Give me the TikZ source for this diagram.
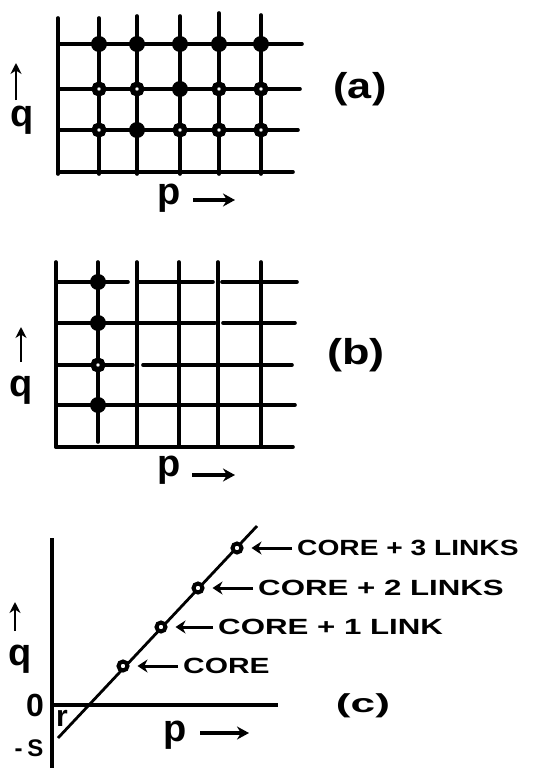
\documentclass[tikz,border=0pt]{standalone}
\usepackage{fontspec}
\setmainfont{Liberation Sans}
\usetikzlibrary{arrows.meta}
\begin{document}
\begin{tikzpicture}[x=1pt,y=-1pt,
  gridline/.style={line width=3.6pt, line cap=round},
  fdot/.style={circle, fill=black, minimum size=16pt, inner sep=0pt},
  odot/.style={circle, draw=black, fill=white, line width=5.5pt, minimum size=9.5pt, inner sep=0pt},
  cdot/.style={circle, draw=black, fill=white, line width=4pt, minimum size=9pt, inner sep=0pt},
  biglbl/.style={font=\bfseries\fontsize{38}{38}\selectfont, inner sep=0pt, anchor=base},
  panellbl/.style={font=\bfseries\fontsize{36}{36}\selectfont, inner sep=0pt},
  corelbl/.style={font=\bfseries\fontsize{22}{22}\selectfont, inner sep=0pt, anchor=west},
  parrow/.style={line width=4pt, -{Stealth[length=12pt,width=13pt]}},
  qarrow/.style={line width=2.6pt, -{Stealth[length=11pt,width=11pt]}},
  carrow/.style={line width=3pt, -{Stealth[length=10pt,width=13pt]}, shorten >=8pt, shorten <=5pt},
]
\useasboundingbox (0,0) rectangle (544,768);

% ---------------- panel (a) ----------------
\foreach \x/\t in {58/18,99/18,137/16,180/16,219/13,261/15} \draw[gridline] (\x,\t) -- (\x,174);
\draw[gridline] (58,44) -- (302,44);
\draw[gridline] (58,89) -- (300,89);
\draw[gridline] (58,130) -- (298,130);
\draw[gridline] (58,172) -- (293,172);
% top row
\node[fdot] (a11) at (99,44) {};
\node[fdot] (a12) at (137,44) {};
\node[fdot] (a13) at (180,44) {};
\node[fdot] (a14) at (219,44) {};
\node[fdot] (a15) at (261,44) {};
% middle row
\node[odot] (a21) at (99,89) {};
\node[odot] (a22) at (137,89) {};
\node[fdot] (a23) at (180,89) {};
\node[odot] (a24) at (219,89) {};
\node[odot] (a25) at (261,89) {};
% bottom row
\node[odot] (a31) at (99,130) {};
\node[fdot] (a32) at (137,130) {};
\node[odot] (a33) at (180,130) {};
\node[odot] (a34) at (219,130) {};
\node[odot] (a35) at (261,130) {};
% labels
\node[biglbl] (qa) at (22,126) {q};
\coordinate (qas) at (16,100);
\coordinate (qae) at (16,63);
\draw[qarrow] (qas) -- (qae);
\node[biglbl] (pa) at (169,204) {p};
\coordinate (pas) at (193,200);
\coordinate (pae) at (235,200);
\draw[parrow] (pas) -- (pae);
\node[panellbl] (la) at (360,89) {\scalebox{1.2}[1]{(a)}};

% ---------------- panel (b) ----------------
\draw[gridline] (56,262) -- (56,447);
\draw[gridline] (98,262) -- (98,442);
\foreach \x in {137,179,218,261} \draw[gridline] (\x,262) -- (\x,447);
\draw[gridline] (56,282) -- (128,282);
\draw[gridline] (138,282) -- (213,282);
\draw[gridline] (222,282) -- (297,282);
\draw[gridline] (56,323) -- (215,323);
\draw[gridline] (223,323) -- (295,323);
\draw[gridline] (56,365) -- (133,365);
\draw[gridline] (143,365) -- (292,365);
\draw[gridline] (56,405) -- (295,405);
\draw[gridline] (56,447) -- (293,447);
\node[fdot] (b1) at (98,282) {};
\node[fdot] (b2) at (98,323) {};
\node[odot] (b3) at (98,365) {};
\node[fdot] (b4) at (98,405) {};
\node[biglbl] (qb) at (21,396) {q};
\coordinate (qbs) at (21,362);
\coordinate (qbe) at (21,327);
\draw[qarrow] (qbs) -- (qbe);
\node[biglbl] (pb) at (169,476) {p};
\coordinate (pbs) at (192,475);
\coordinate (pbe) at (235,475);
\draw[parrow] (pbs) -- (pbe);
\node[panellbl] (lb) at (356,355) {\scalebox{1.25}[1]{(b)}};

% ---------------- panel (c) ----------------
\coordinate (yaxtop) at (52,538);
\coordinate (yaxbot) at (52,768);
\coordinate (xaxend) at (278,705);
\coordinate (origin) at (52,705);
\draw[line width=3.2pt] (yaxtop) -- (yaxbot);
\draw[line width=3.2pt] (origin) -- (xaxend);
\coordinate (dstart) at (58,738);
\coordinate (dend) at (257,526);
\draw[line width=2.8pt] (dstart) -- (dend);
\node[cdot] (c0) at (123,666) {};
\node[cdot] (c1) at (161,627) {};
\node[cdot] (c2) at (198,588) {};
\node[cdot] (c3) at (237,548) {};

\node[corelbl] (l0) at (183,666) {\scalebox{1.36}[1]{CORE}};
\node[corelbl] (l1) at (218,627) {\scalebox{1.42}[1]{CORE + 1 LINK}};
\node[corelbl] (l2) at (258,588) {\scalebox{1.42}[1]{CORE + 2 LINKS}};
\node[corelbl] (l3) at (297,548) {\scalebox{1.28}[1]{CORE + 3 LINKS}};
\draw[carrow] (l0.west) -- (c0.east);
\draw[carrow] (l1.west) -- (c1.east);
\draw[carrow] (l2.west) -- (c2.east);
\draw[carrow] (l3.west) -- (c3.east);

\node[biglbl] (qc) at (20,665) {q};
\coordinate (qcs) at (15,631);
\coordinate (qce) at (15,602);
\draw[qarrow] (qcs) -- (qce);
\node[font=\bfseries\fontsize{32}{32}\selectfont, inner sep=0pt] (zero) at (35,705) {0};
\node[font=\bfseries\fontsize{24}{24}\selectfont, inner sep=0pt] (negs) at (29,748) {-\kern5pt S};
\node[font=\bfseries\fontsize{30}{30}\selectfont, inner sep=0pt] (rlbl) at (62,718) {r};
\node[biglbl] (pc) at (175,741) {p};
\coordinate (pcs) at (200,733);
\coordinate (pce) at (249,733);
\draw[parrow] (pcs) -- (pce);
\node[font=\bfseries\fontsize{26}{26}\selectfont, inner sep=0pt] (lc) at (363,706) {\scalebox{1.7}[1]{(c)}};
\end{tikzpicture}
\end{document}
